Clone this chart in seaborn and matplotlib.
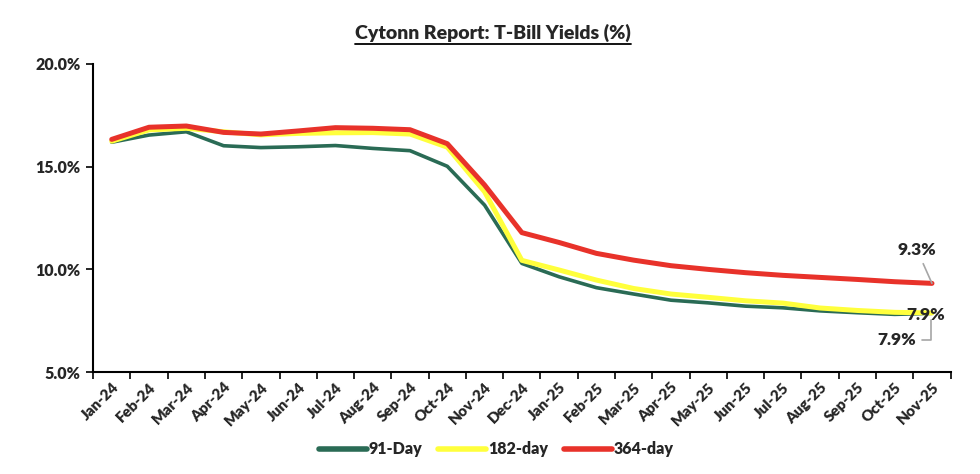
import matplotlib
matplotlib.use("Agg")
import matplotlib.pyplot as plt
import matplotlib.lines as mlines
import pandas as pd
import seaborn as sns


MONTHS = [
    "Jan-24", "Feb-24", "Mar-24", "Apr-24", "May-24", "Jun-24", "Jul-24", "Aug-24",
    "Sep-24", "Oct-24", "Nov-24", "Dec-24", "Jan-25", "Feb-25", "Mar-25", "Apr-25",
    "May-25", "Jun-25", "Jul-25", "Aug-25", "Sep-25", "Oct-25", "Nov-25",
]
YIELD_91 = [
    16.19, 16.54, 16.70, 16.02, 15.93, 15.97, 16.03, 15.89, 15.78, 15.02, 13.13, 10.29,
    9.64, 9.11, 8.80, 8.50, 8.37, 8.21, 8.13, 7.98, 7.89, 7.81, 7.86,
]
YIELD_182 = [
    16.24, 16.79, 16.87, 16.70, 16.55, 16.62, 16.65, 16.66, 16.59, 15.95, 13.78, 10.44,
    9.97, 9.48, 9.07, 8.80, 8.64, 8.47, 8.36, 8.12, 8.00, 7.91, 7.88,
]
YIELD_364 = [
    16.33, 16.92, 16.98, 16.67, 16.59, 16.74, 16.90, 16.87, 16.80, 16.12, 14.11, 11.79,
    11.31, 10.78, 10.45, 10.18, 10.00, 9.84, 9.71, 9.61, 9.51, 9.40, 9.32,
]
SERIES = ["91-Day", "182-day", "364-day"]
COLORS = {"91-Day": "#2A6B55", "182-day": "#FFFF3C", "364-day": "#E8322A"}
WIDTHS = {"91-Day": 2.6, "182-day": 3.6, "364-day": 3.6}

FONT = ["Lato", "DejaVu Sans"]
WEIGHT = "heavy"


def build_frame() -> pd.DataFrame:
    rows = []
    for name, values in zip(SERIES, [YIELD_91, YIELD_182, YIELD_364]):
        for i, (m, v) in enumerate(zip(MONTHS, values)):
            rows.append({"pos": i, "month": m, "series": name, "value": v})
    return pd.DataFrame(rows)


def main() -> None:
    sns.set_theme(style="white")
    plt.rcParams["font.family"] = FONT
    plt.rcParams["font.weight"] = WEIGHT

    df = build_frame()
    fig = plt.figure(figsize=(9.8, 4.74), dpi=100)
    ax = fig.add_axes([0.095, 0.215, 0.875, 0.65])

    for name in SERIES:
        sub = df[df["series"] == name]
        sns.lineplot(data=sub, x="pos", y="value", ax=ax, color=COLORS[name],
                     linewidth=WIDTHS[name], label=name, solid_capstyle="round",
                     solid_joinstyle="round")

    ax.set_xlim(-0.5, len(MONTHS) - 0.5)
    ax.set_ylim(5, 20)
    ax.set_yticks([5, 10, 15, 20])
    ax.set_yticklabels([f"{t:.1f}%" for t in [5, 10, 15, 20]], fontsize=11.5, fontweight=WEIGHT)

    # tick marks between categories, labels at centres
    ax.set_xticks([i - 0.5 for i in range(len(MONTHS) + 1)])
    ax.set_xticklabels([])
    ax.set_xticks(range(len(MONTHS)), minor=True)
    ax.set_xticklabels(MONTHS, minor=True, rotation=45, ha="right", rotation_mode="anchor",
                       fontsize=11, fontweight=WEIGHT)
    ax.tick_params(axis="x", which="major", direction="out", length=5, width=1.2, color="black", bottom=True)
    ax.tick_params(axis="x", which="minor", length=0, pad=6)
    ax.tick_params(axis="y", direction="out", length=5, width=1.2, color="black", left=True, pad=4)
    ax.set_xlabel("")
    ax.set_ylabel("")

    for side in ["top", "right"]:
        ax.spines[side].set_visible(False)
    for side in ["left", "bottom"]:
        ax.spines[side].set_color("black")
        ax.spines[side].set_linewidth(1.5)

    # end-point data labels
    last = len(MONTHS) - 1
    ax.annotate(f"{YIELD_364[-1]:.1f}%", xy=(last, YIELD_364[-1]), xytext=(last - 0.4, 10.95),
                ha="center", va="center", fontsize=12.5, fontweight=WEIGHT,
                arrowprops=dict(arrowstyle="-", color="#A6A6A6", lw=1.2, shrinkA=2, shrinkB=0))
    ax.text(last - 0.17, 7.77, f"{YIELD_182[-1]:.1f}%", ha="center", va="center",
            fontsize=12.5, fontweight=WEIGHT)
    ax.annotate(f"{YIELD_91[-1]:.1f}%", xy=(last - 0.02, 7.55), xytext=(last - 0.95, 6.55),
                ha="center", va="center", fontsize=12.5, fontweight=WEIGHT,
                arrowprops=dict(arrowstyle="-", color="#A6A6A6", lw=1.2, shrinkA=2, shrinkB=0,
                                connectionstyle="angle,angleA=0,angleB=90,rad=0"))

    handles = [mlines.Line2D([], [], color=COLORS[s], linewidth=4) for s in SERIES]
    ax.legend(handles, SERIES, loc="center", bbox_to_anchor=(0.47, -0.25), ncol=3, frameon=False,
              prop={"family": FONT, "weight": WEIGHT, "size": 11.5}, handlelength=3.0,
              handletextpad=0.1, columnspacing=1.0)

    title = fig.text(0.503, 0.93, "Cytonn Report: T-Bill Yields (%)", ha="center", va="center",
                     fontsize=14, fontweight=WEIGHT)
    fig.canvas.draw()
    bb = title.get_window_extent().transformed(fig.transFigure.inverted())
    fig.add_artist(mlines.Line2D([bb.x0, bb.x1], [bb.y0 - 0.004, bb.y0 - 0.004], color="black",
                                 linewidth=1.3, transform=fig.transFigure))

    fig.savefig("out.png", dpi=100, facecolor="white")
    plt.close(fig)


if __name__ == "__main__":
    main()
